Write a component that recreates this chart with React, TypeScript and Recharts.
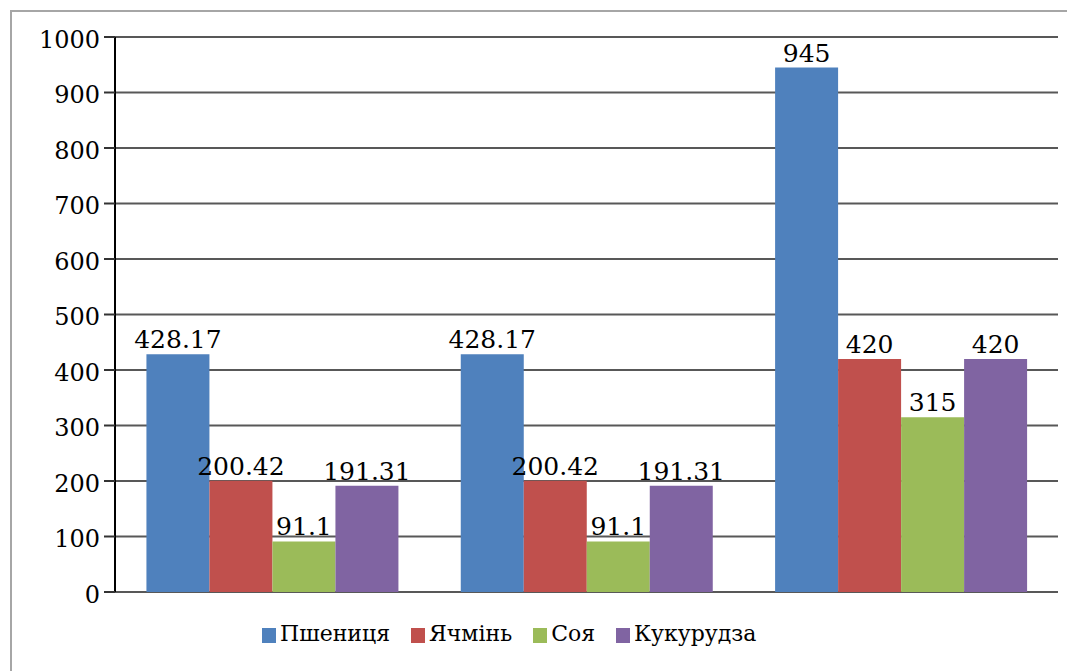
import { Bar, BarChart, CartesianGrid, LabelList, Legend, XAxis, YAxis } from "recharts"

const groups = ["1", "2", "3"]
const wheat = [428.17, 428.17, 945]
const barley = [200.42, 200.42, 420]
const soy = [91.1, 91.1, 315]
const corn = [191.31, 191.31, 420]
const yTicks = [0, 100, 200, 300, 400, 500, 600, 700, 800, 900, 1000]

const seriesList = [
  { key: "wheat", name: "Пшениця", color: "#4F81BD" },
  { key: "barley", name: "Ячмінь", color: "#C0504D" },
  { key: "soy", name: "Соя", color: "#9BBB59" },
  { key: "corn", name: "Кукурудза", color: "#8064A2" },
]

const data = groups.map((g, i) => ({
  group: g,
  wheat: wheat[i],
  barley: barley[i],
  soy: soy[i],
  corn: corn[i],
}))

// serif faces other than DejaVu fall back to sans here
const font = "DejaVu Serif"

const LegendContent = () => (
  <div style={{ display: "flex", alignItems: "flex-end", fontFamily: font, fontSize: 22, color: "#000" }}>
    {seriesList.map((s) => (
      <div key={s.key} style={{ display: "flex", alignItems: "center", marginRight: 21 }}>
        <span style={{ display: "inline-block", width: 14, height: 15, background: s.color, marginRight: 4, marginTop: 3 }} />
        <span>{s.name}</span>
      </div>
    ))}
  </div>
)

export default function App() {
  return (
    <div style={{ position: "absolute", left: 0, top: 0, width: 1067, height: 671, background: "#fff" }}>
      <div
        style={{
          position: "absolute",
          left: 10,
          top: 10,
          width: 1067,
          height: 671,
          borderLeft: "2px solid #a6a6a6",
          borderTop: "2px solid #a6a6a6",
        }}
      />
      <BarChart
        width={1067}
        height={671}
        data={data}
        margin={{ top: 37, right: 9, left: 0, bottom: 79 }}
        barCategoryGap="10%"
        barGap={0}
        style={{ position: "absolute", left: 0, top: 0 }}
      >
        <CartesianGrid vertical={false} stroke="#585858" strokeWidth={2} />
        <XAxis dataKey="group" height={0} tick={false} tickLine={false} axisLine={{ stroke: "#333", strokeWidth: 2 }} />
        <YAxis
          width={115}
          domain={[0, 1000]}
          ticks={yTicks}
          interval={0}
          tickSize={11}
          tickMargin={4}
          axisLine={{ stroke: "#000", strokeWidth: 2 }}
          tickLine={{ stroke: "#333", strokeWidth: 2 }}
          tick={{ fill: "#000", fontSize: 24, fontFamily: font, dy: 2 }}
        />
        <YAxis
          yAxisId="frame"
          orientation="right"
          width={0}
          tick={false}
          tickLine={false}
          axisLine={{ stroke: "#c8c8c8", strokeWidth: 1 }}
        />
        <Legend
          layout="horizontal"
          verticalAlign="middle"
          align="center"
          content={<LegendContent />}
          wrapperStyle={{ top: 621, left: 262, width: "auto" }}
        />
        {seriesList.map((s) => (
          <Bar key={s.key} dataKey={s.key} name={s.name} fill={s.color} isAnimationActive={false}>
            <LabelList dataKey={s.key} position="top" offset={6} fill="#000" fontSize={25} fontFamily={font} />
          </Bar>
        ))}
      </BarChart>
    </div>
  )
}
